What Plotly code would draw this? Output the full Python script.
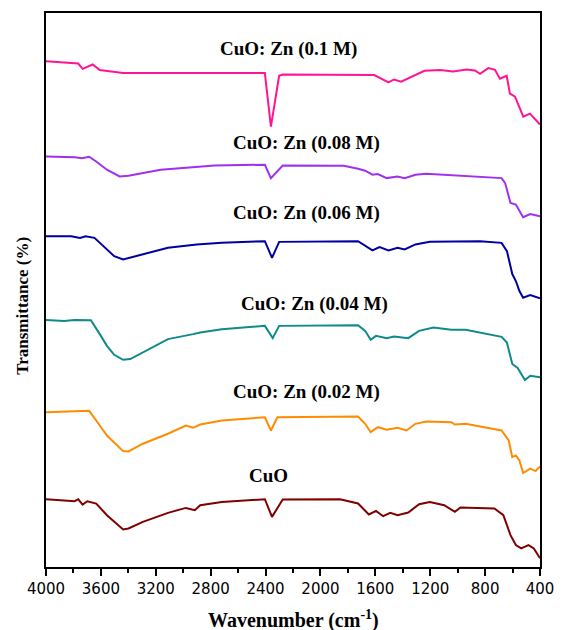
import plotly.graph_objects as go

# ---- data (wavenumber in cm^-1, transmittance in offset arbitrary units) ----
wn_01 = [4000, 3765, 3733, 3660, 3608, 3438, 2405, 2361, 2301, 2275, 1608, 1504, 1464, 1412, 1242, 1129, 1032, 934, 874, 837, 777, 728, 692, 643, 619, 582, 558, 522, 473, 400]
t_01 = [507.7, 505.3, 500, 504.3, 498.7, 495.7, 495.7, 442, 493, 494.3, 493.7, 486.3, 489.3, 487, 498, 498.7, 497.3, 499.3, 498.3, 495, 500.7, 499, 490, 493, 475, 472, 464, 452, 455, 444]

wn_008 = [4000, 3791, 3739, 3686, 3634, 3556, 3464, 3399, 3164, 2771, 2405, 2361, 2275, 1830, 1726, 1674, 1621, 1582, 1517, 1438, 1386, 1308, 1229, 1098, 942, 680, 654, 615, 576, 523, 471, 400]
t_008 = [412, 411.3, 410.3, 411.7, 407, 398.7, 392, 392.7, 398.7, 403, 403.7, 390.3, 403, 402.7, 399.7, 397.7, 393.7, 394.3, 390.3, 392, 390.3, 393.7, 394.7, 393.7, 392.7, 390.3, 385.3, 365.3, 363.7, 351, 354.3, 352]

wn_006 = [4000, 3817, 3752, 3712, 3647, 3582, 3503, 3438, 3294, 3111, 2902, 2719, 2405, 2353, 2301, 1726, 1621, 1569, 1504, 1438, 1386, 1308, 1203, 942, 837, 680, 641, 602, 576, 550, 523, 471, 400]
t_006 = [332, 332, 330.3, 332, 330.3, 322, 312, 308.7, 313.7, 320.3, 323.7, 325.3, 327, 310.3, 326.3, 327, 317.7, 321, 317.7, 320.3, 318.7, 323.7, 326.3, 326.3, 327, 325.3, 317, 294, 287, 277, 270.3, 273, 269.7]

wn_004 = [4000, 3869, 3791, 3673, 3608, 3556, 3503, 3438, 3386, 3294, 3111, 2928, 2876, 2719, 2405, 2348, 2301, 1726, 1674, 1634, 1595, 1517, 1464, 1360, 1281, 1177, 1046, 942, 811, 680, 641, 602, 563, 510, 471, 400]
t_004 = [248, 247, 248, 247.7, 233.7, 222, 213, 208, 208.7, 215.3, 228.7, 233.7, 235.3, 238.7, 242, 229.7, 242, 242.7, 237, 228, 232, 229.7, 231.3, 229.7, 237, 240.3, 238, 238, 234.3, 231, 225.3, 203.7, 199.7, 187.7, 192, 190.3]

wn_002 = [4000, 3686, 3634, 3556, 3438, 3399, 3294, 3111, 2981, 2928, 2876, 2719, 2405, 2361, 2314, 1726, 1674, 1634, 1582, 1517, 1438, 1373, 1308, 1229, 1046, 1020, 942, 680, 628, 602, 576, 550, 523, 471, 432, 400]
t_002 = [155.3, 156.7, 147, 132, 116.3, 116, 123.7, 133.7, 142, 139.7, 143, 147, 150.3, 137, 150.3, 151, 143.7, 135.3, 140.3, 137.7, 139.7, 137, 143.7, 146, 145.3, 143, 143.7, 137, 127, 110.3, 112, 107, 94.3, 98.7, 96.3, 101]

wn_cuo = [4000, 3791, 3765, 3733, 3699, 3634, 3556, 3438, 3399, 3294, 3111, 2981, 2915, 2876, 2719, 2405, 2353, 2275, 1857, 1726, 1647, 1595, 1543, 1491, 1438, 1360, 1281, 1203, 1098, 1020, 980, 732, 667, 615, 576, 537, 484, 445, 400]
t_cuo = [68, 66, 68, 62.7, 66, 63.7, 52, 37.7, 38.7, 45.3, 54.3, 59.3, 57, 62, 65.3, 68, 50.3, 67.7, 68, 63.7, 52.7, 56.3, 51, 54.3, 52, 54.7, 63, 65.3, 62, 55.3, 59.7, 58.7, 52, 32, 22, 18.7, 22, 18.7, 8.7]

labels = ["CuO: Zn (0.1 M)", "CuO: Zn (0.08 M)", "CuO: Zn (0.06 M)", "CuO: Zn (0.04 M)", "CuO: Zn (0.02 M)", "CuO"]
label_wn = [2230, 2100, 2100, 2047, 2100, 2380]
label_t = [520.3, 426, 355.3, 263.7, 175.3, 92]

colors = ["#FF1493", "#A030F0", "#0000A0", "#0E8A8A", "#FF8C00", "#800000"]

series = [(wn_01, t_01), (wn_008, t_008), (wn_006, t_006), (wn_004, t_004), (wn_002, t_002), (wn_cuo, t_cuo)]

fig = go.Figure()
for (x, y), c, name in zip(series, colors, labels):
    fig.add_trace(go.Scatter(x=x, y=y, mode="lines", name=name,
                             line=dict(color=c, width=2)))

serif = "Liberation Serif, Times New Roman, serif"
for name, lx, ly in zip(labels, label_wn, label_t):
    fig.add_annotation(x=lx, y=ly, text="<b>%s</b>" % name, showarrow=False,
                       font=dict(family=serif, size=19, color="black"),
                       xanchor="center", yanchor="middle")

fig.add_annotation(xref="paper", yref="paper", x=0.5, y=-0.095,
                   text="<b>Wavenumber (cm<sup>-1</sup>)</b>", showarrow=False,
                   font=dict(family=serif, size=20, color="black"),
                   xanchor="center", yanchor="middle")
fig.add_annotation(xref="paper", yref="paper", x=-0.049, y=0.471,
                   text="<b>Transmittance (%)</b>", showarrow=False, textangle=-90,
                   font=dict(family=serif, size=17, color="black"),
                   xanchor="center", yanchor="middle")

fig.update_layout(
    width=554, height=622,
    margin=dict(l=38, r=22, t=3, b=63),
    plot_bgcolor="white", paper_bgcolor="white",
    showlegend=False,
    xaxis=dict(range=[4000, 400], tick0=400, dtick=400, ticks="outside",
               ticklen=7, tickwidth=2, tickcolor="black",
               showline=True, mirror=True, linewidth=2, linecolor="black",
               showgrid=False, zeroline=False,
               tickfont=dict(family="DejaVu Sans, Arial, sans-serif", size=15, color="black"),
               minor=dict(dtick=200, tick0=400, ticks="outside", ticklen=4, tickwidth=2, tickcolor="black")),
    yaxis=dict(range=[0, 556], showticklabels=False, ticks="",
               showline=True, mirror=True, linewidth=2, linecolor="black",
               showgrid=False, zeroline=False),
)

fig.write_html("out.html")
